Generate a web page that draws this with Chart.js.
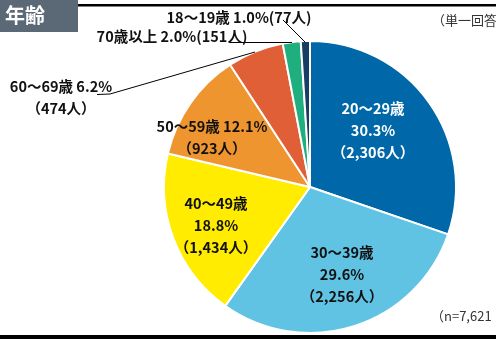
<!DOCTYPE html>
<html>
<head>
<meta charset="utf-8">
<script src="https://cdn.jsdelivr.net/npm/chart.js@4"></script>
<style>
  html, body { margin: 0; padding: 0; background: #fff; }
  #wrap { width: 496px; height: 339px; position: relative; }
</style>
</head>
<body>
<div id="wrap"><canvas id="ageChart"></canvas></div>
<script>
// data (n=7,621)
const ageLabels = ['20～29歳', '30～39歳', '40～49歳', '50～59歳', '60～69歳', '70歳以上', '18～19歳'];
const ageCounts = [2306, 2256, 1434, 923, 474, 151, 77];
const agePercents = [30.3, 29.6, 18.8, 12.1, 6.2, 2.0, 1.0];
const sliceColors = ['#0068a9', '#60c3e3', '#ffec00', '#ef9530', '#e05f37', '#1fae7d', '#183f63'];
const chartTitle = '年齢';
const noteTop = '（単一回答';
const noteBottom = '（n=7,621';

const FONT = '"Noto Sans CJK JP", "Noto Sans", sans-serif';

function fmt(n) {
  return n.toLocaleString('en-US');
}

// label text for each slice, placement is done in the plugin
function sliceLines(i) {
  const pct = agePercents[i].toFixed(1) + '%';
  const cnt = fmt(ageCounts[i]);
  if (i <= 2) return [ageLabels[i], pct, '（' + cnt + '人）'];
  if (i === 3 || i === 4) return [ageLabels[i] + ' ' + pct, '（' + cnt + '人）'];
  return [ageLabels[i] + ' ' + pct + '(' + cnt + '人)'];
}

const labelSpots = [
  {x: 373, y: 108, color: '#fff'},
  {x: 342, y: 252, color: '#111'},
  {x: 216, y: 203, color: '#111'},
  {x: 212, y: 126, color: '#111'},
  {x: 61, y: 86, color: '#111'},
  {x: 172, y: 36, color: '#111'},
  {x: 239, y: 17, color: '#111'},
];

const decorPlugin = {
  id: 'decor',
  afterDraw(chart) {
    const ctx = chart.ctx;
    ctx.save();

    // header box + title
    ctx.fillStyle = '#5b6876';
    ctx.fillRect(0, 0, 78, 32);
    ctx.fillStyle = '#fff';
    ctx.font = 'bold 20px ' + FONT;
    ctx.textAlign = 'left';
    ctx.textBaseline = 'middle';
    ctx.fillText(chartTitle, 5, 15);

    // rules top and bottom
    ctx.fillStyle = '#000';
    ctx.fillRect(78, 4, 418, 2.5);
    ctx.fillRect(0, 335, 496, 4);

    // notes
    ctx.fillStyle = '#333';
    ctx.font = '13px ' + FONT;
    ctx.fillText(noteTop, 432, 20);
    ctx.fillText(noteBottom, 431, 316);

    // leader lines
    ctx.strokeStyle = '#000';
    ctx.lineWidth = 1;
    ctx.beginPath();
    ctx.moveTo(283, 20); ctx.lineTo(305, 42);
    ctx.moveTo(230, 42.5); ctx.lineTo(292, 42.5);
    ctx.moveTo(97, 94.5); ctx.lineTo(110, 94); ctx.lineTo(255, 52);
    ctx.stroke();

    // slice labels
    ctx.font = 'bold 14.5px ' + FONT;
    ctx.textAlign = 'center';
    ageLabels.forEach((_, i) => {
      const spot = labelSpots[i];
      ctx.fillStyle = spot.color;
      sliceLines(i).forEach((line, k) => {
        ctx.fillText(line, spot.x, spot.y + k * 22);
      });
    });

    ctx.restore();
  }
};

const ctx = document.getElementById('ageChart').getContext('2d');
new Chart(ctx, {
  type: 'pie',
  data: {
    labels: ageLabels,
    datasets: [{
      data: ageCounts,
      backgroundColor: sliceColors,
      borderColor: '#fff',
      borderWidth: 2,
    }],
  },
  options: {
    responsive: true,
    maintainAspectRatio: false,
    animation: false,
    layout: {
      padding: {top: 40, bottom: 5, left: 163, right: 39},
    },
    plugins: {
      legend: {display: false},
      tooltip: {enabled: false},
    },
  },
  plugins: [decorPlugin],
});
</script>
</body>
</html>
